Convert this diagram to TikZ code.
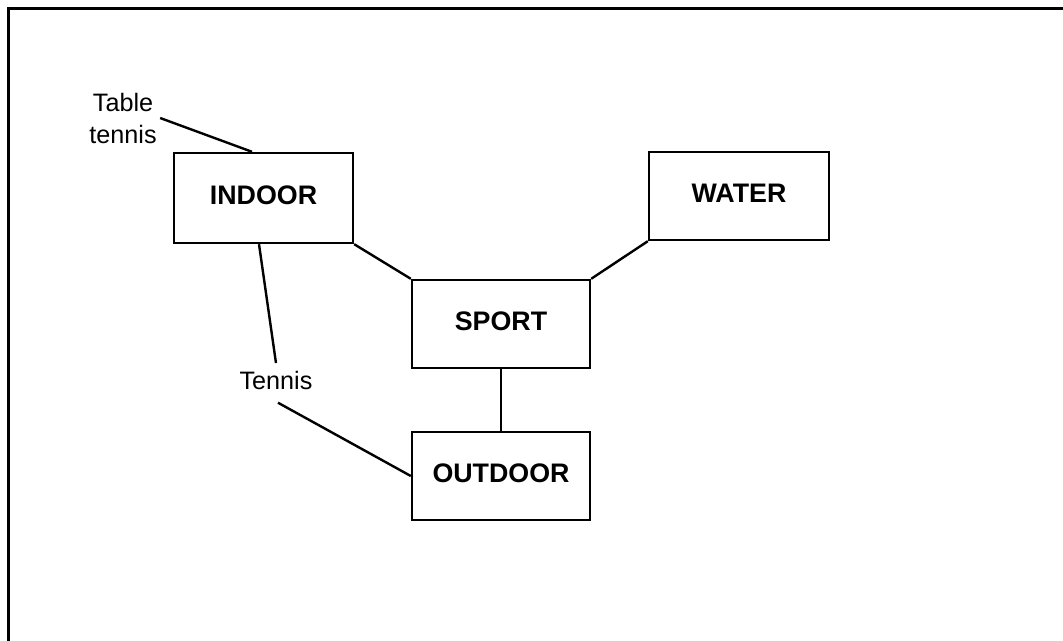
\documentclass[tikz,border=0pt]{standalone}
\usepackage{fontspec}
\setmainfont{Liberation Sans}
\begin{document}
\begin{tikzpicture}[x=1pt,y=-1pt,
  box/.style={draw, line width=2.4pt, minimum width=178pt, minimum height=88pt,
    font=\fontsize{26.8}{30}\selectfont\bfseries, text depth=6pt, inner sep=0pt},
  lbl/.style={font=\fontsize{25.2}{32}\selectfont, align=center},
  conn/.style={line width=2.4pt}]
\useasboundingbox (0,0) rectangle (1063,640);
\draw[line width=3pt] (8,642) -- (8,8) -- (1065,8);
\node[box, minimum width=179pt, minimum height=90pt] (indoor) at (263.5,198) {INDOOR};
\node[box] (sport) at (501,324) {SPORT};
\node[box, minimum width=180pt] (water) at (739,196) {WATER};
\node[box] (outdoor) at (501,476) {OUTDOOR};
\node[lbl] (tt) at (123,118) {Table\\tennis};
\node[lbl, anchor=base, inner sep=7.5pt, text depth=6pt] (tennis) at (276,389) {Tennis};
\draw[conn] (tt.east) -- ([xshift=-11.5pt]indoor.north);
\draw[conn] (indoor.south east) -- (sport.north west);
\draw[conn] (water.south west) -- (sport.north east);
\draw[conn] (sport.south) -- (outdoor.north);
\draw[conn] ([xshift=-4.5pt]indoor.south) -- (tennis.north);
\draw[conn] ([xshift=2pt]tennis.south) -- (outdoor.west);
\end{tikzpicture}
\end{document}
